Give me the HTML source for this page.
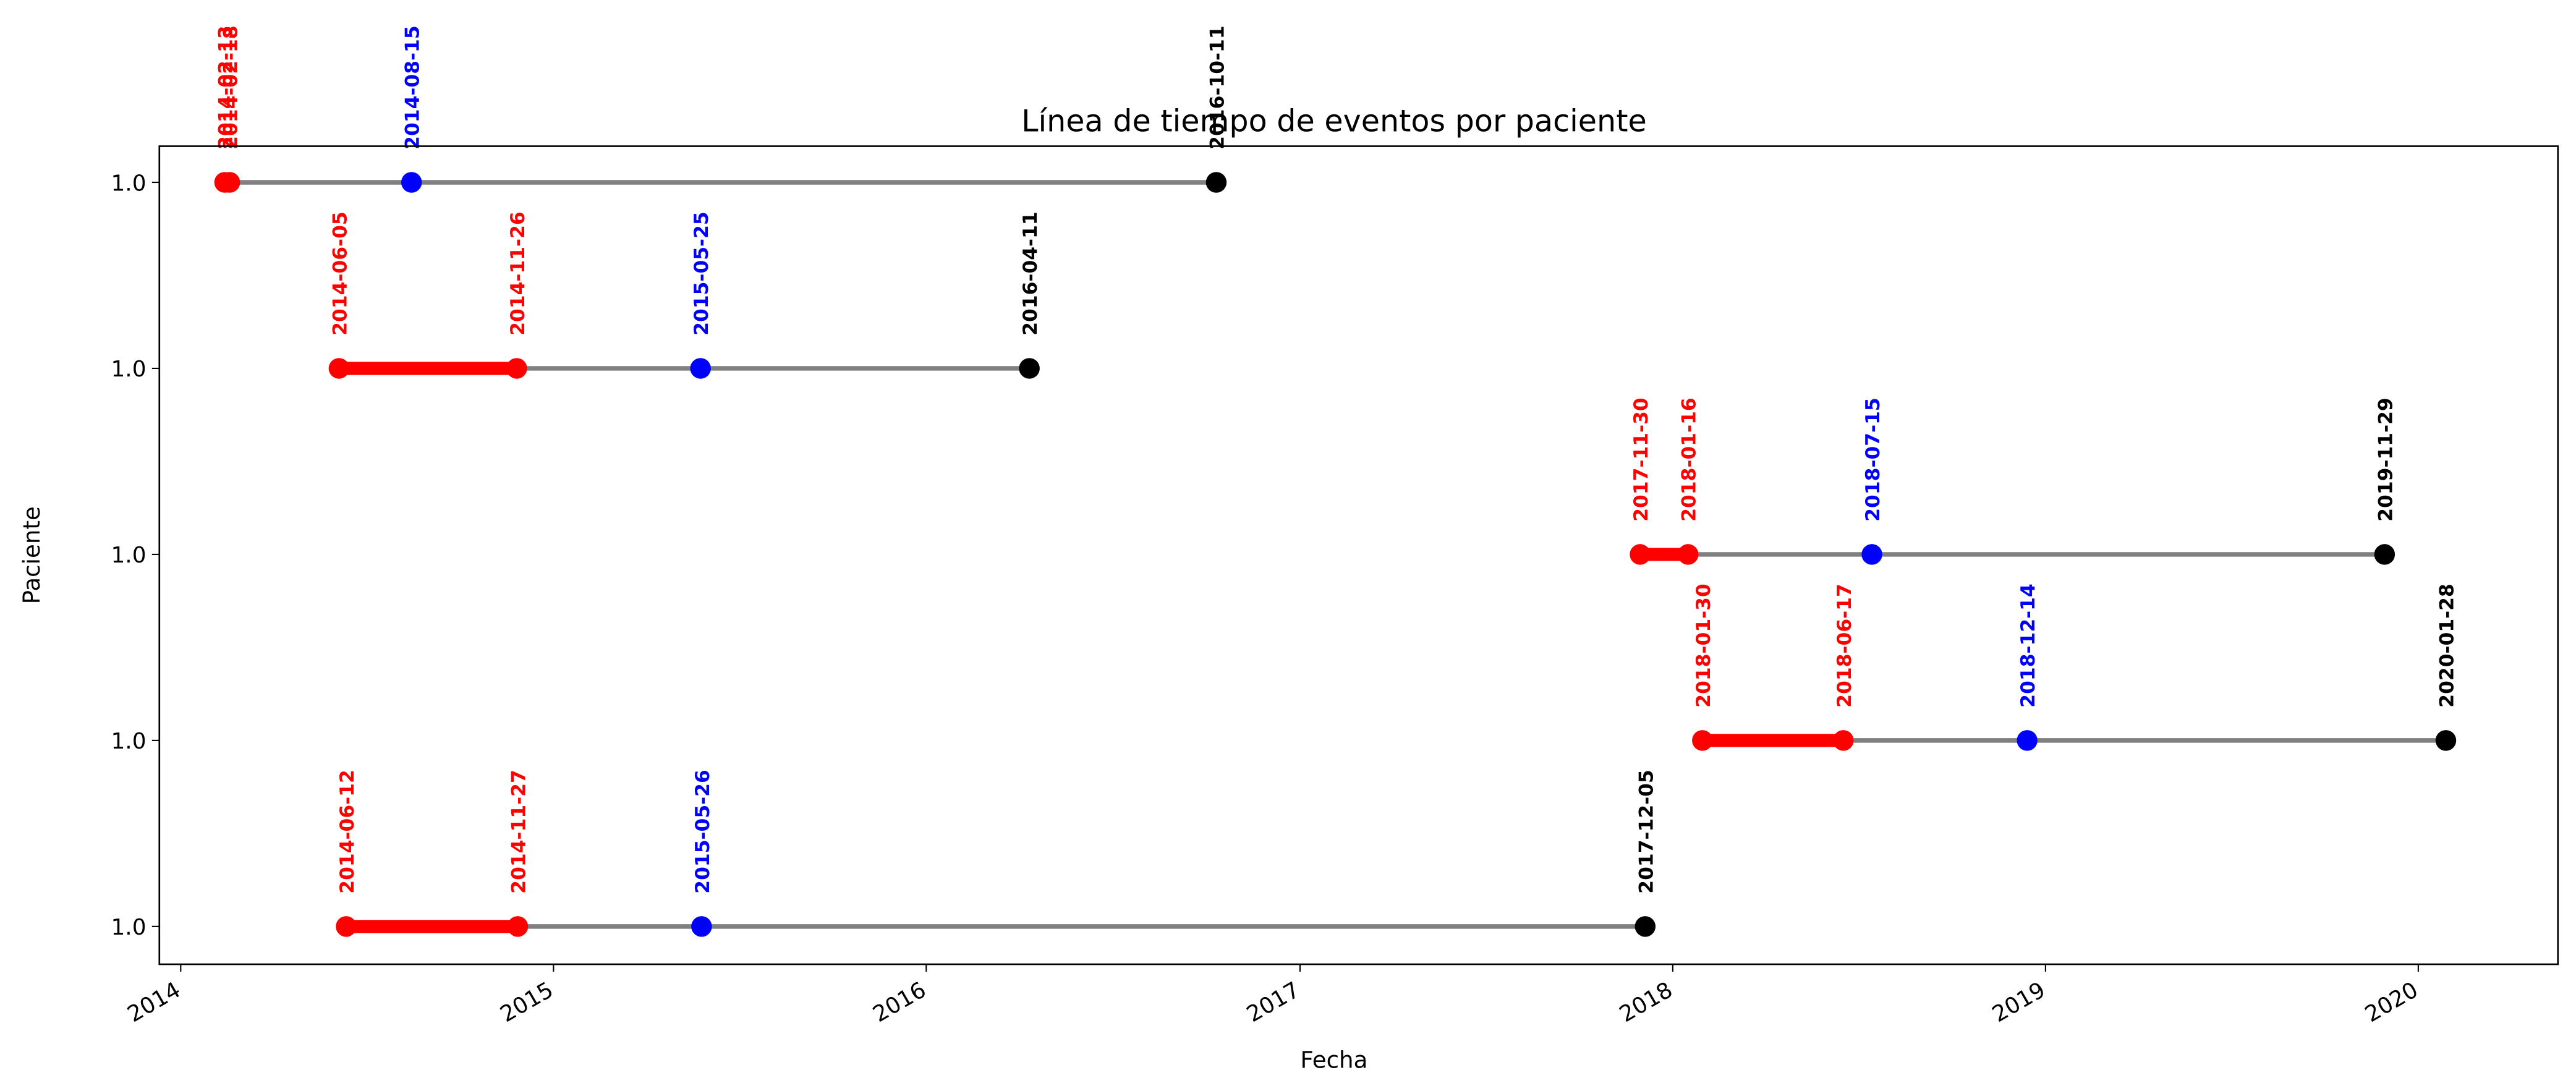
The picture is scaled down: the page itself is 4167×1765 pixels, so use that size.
<!DOCTYPE html>
<html><head><meta charset="utf-8"><style>
html,body{margin:0;padding:0;background:#fff;}
svg{display:block;}
text{font-family:"DejaVu Sans","Liberation Sans",sans-serif;}
</style></head><body>
<svg id="chart" width="4167" height="1765" viewBox="0 0 1568 664.15" xmlns="http://www.w3.org/2000/svg">
<rect width="1568" height="664.15" fill="#fff"/>
<g id="plot"></g>
<rect x="97" y="89" width="1460" height="498" fill="none" stroke="#000" stroke-width="1"/>
<text x="812" y="80" font-size="18.5" text-anchor="middle">Línea de tiempo de eventos por paciente</text>
<text x="812" y="650" font-size="14" text-anchor="middle">Fecha</text>
<text transform="translate(24,338) rotate(-90)" font-size="14" text-anchor="middle">Paciente</text>
</svg>
<script>
const patientLabels = ["1.0","1.0","1.0","1.0","1.0"];
const redDates = [["2014-02-13","2014-02-18"],["2014-06-05","2014-11-26"],["2017-11-30","2018-01-16"],["2018-01-30","2018-06-17"],["2014-06-12","2014-11-27"]];
const blueDates = ["2014-08-15","2015-05-25","2018-07-15","2018-12-14","2015-05-26"];
const blackDates = ["2016-10-11","2016-04-11","2019-11-29","2020-01-28","2017-12-05"];
const yearTicks = [2014,2015,2016,2017,2018,2019,2020];

const NS="http://www.w3.org/2000/svg";
const g=document.getElementById('plot');
const svg=document.getElementById('chart');
const t0=Date.UTC(2014,0,1), t1=Date.UTC(2020,0,1);
function days(s){const p=s.split('-');return (Date.UTC(+p[0],+p[1]-1,+p[2])-t0)/864e5;}
const span=(t1-t0)/864e5;
function xS(d){return 110+(days(d))*(1472-110)/span;}
function yS(i){return 111+i*113.25;}
function mk(tag,attrs,parent){const e=document.createElementNS(NS,tag);for(const k in attrs)e.setAttribute(k,attrs[k]);(parent||g).appendChild(e);return e;}

yearTicks.forEach(yr=>{
  const x=xS(yr+"-01-01");
  const tk=mk('line',{x1:x,x2:x,y1:587,y2:591.5,stroke:'#000','stroke-width':0.8},svg);
  
  
  const tl=mk('text',{transform:`translate(${x-4},${597}) rotate(-30)`,'font-size':13.5,'text-anchor':'end','dominant-baseline':'hanging'},svg);
  tl.textContent=yr;
  
  
});
patientLabels.forEach((lab,i)=>{
  const y=yS(i);
  const tk=mk('line',{x1:92.5,x2:97,y1:y,y2:y,stroke:'#000','stroke-width':0.8},svg);
  
  
  const tl=mk('text',{x:89,y:y+5,'font-size':13.5,'text-anchor':'end'},svg);
  tl.textContent=lab;
  
  
});
function label(x,y,txt,col){
  const t=mk('text',{transform:`translate(${x+4.5},${y-20}) rotate(-90)`,'font-size':11.8,'font-weight':'bold',fill:col,'text-anchor':'start'});
  t.textContent=txt;
  
  
}
function dot(x,y,col,name){
  const c=mk('circle',{cx:x,cy:y,r:6.3,fill:col});
  
  
}
patientLabels.forEach((_,i)=>{
  const y=yS(i);
  const xr0=xS(redDates[i][0]), xr1=xS(redDates[i][1]), xb=xS(blueDates[i]), xk=xS(blackDates[i]);
  const gl=mk('line',{x1:xr0,x2:xk,y1:y,y2:y,stroke:'#808080','stroke-width':2.8});
  
  
  const rl=mk('line',{x1:xr0,x2:xr1,y1:y,y2:y,stroke:'#ff0000','stroke-width':8});
  
  
  dot(xr0,y,'#ff0000','red-event-marker');
  dot(xr1,y,'#ff0000','red-event-marker');
  dot(xb,y,'#0000ff','blue-event-marker');
  dot(xk,y,'#000000','black-event-marker');
  label(xr0,y,redDates[i][0],'#ff0000');
  label(xr1,y,redDates[i][1],'#ff0000');
  label(xb,y,blueDates[i],'#0000ff');
  label(xk,y,blackDates[i],'#000000');
});
</script>
</body></html>
